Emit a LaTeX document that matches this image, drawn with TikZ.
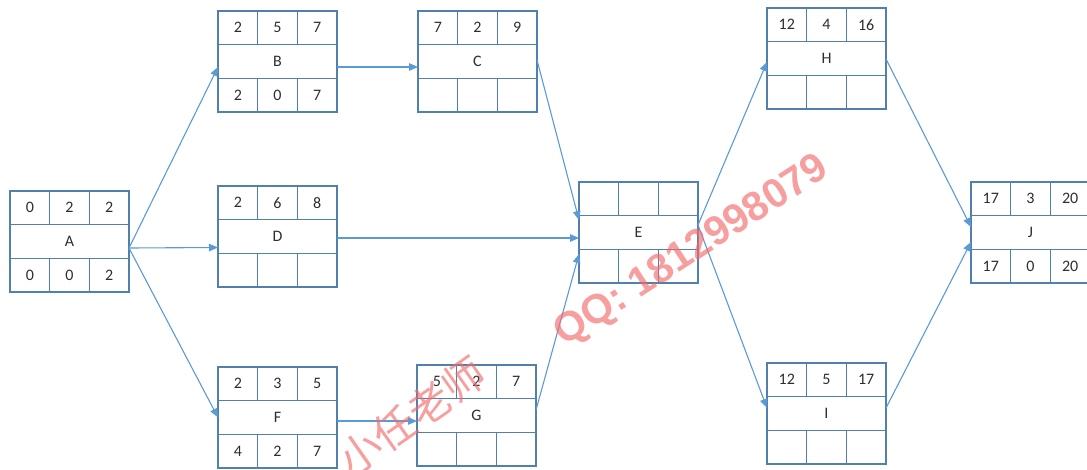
\documentclass[tikz,border=0pt]{standalone}
\usepackage{fontspec}
\setmainfont{Carlito}
\newfontfamily\markfont{Liberation Sans}
\newfontfamily\cjkmark{Noto Sans CJK SC}
\usetikzlibrary{arrows.meta,calc}

\definecolor{gridblue}{HTML}{5080AE}
\definecolor{linkblue}{HTML}{5B9BD5}
\definecolor{inkgrey}{HTML}{2E2E2E}
\definecolor{markred}{HTML}{F46A6A}

\tikzset{
  actframe/.style={draw=gridblue, line width=1.4pt, minimum width=119pt,
    minimum height=101pt, anchor=north west, inner sep=0pt, outer sep=0pt},
  gridline/.style={draw=gridblue, line width=1.4pt},
  celltext/.style={font=\fontsize{16}{16}\selectfont, text=inkgrey, inner sep=0pt},
  link/.style={draw=linkblue, line width=1.1pt, -{Triangle[length=9pt,width=7.5pt]}},
  stamp/.style={text=markred, opacity=0.65}
}

% activity box: name, top-left corner, ES D EF (top row), LS TF LF (bottom row)
\newcommand{\actbox}[8]{%
  \node[actframe] (#1) at (#2) {};
  \draw[gridline] ([yshift=-33.7pt]#1.north west) -- ([yshift=-33.7pt]#1.north east);
  \draw[gridline] ([yshift=33.7pt]#1.south west) -- ([yshift=33.7pt]#1.south east);
  \foreach \k in {1,2} {
    \draw[gridline] ($(#1.north west)!\k/3!(#1.north east)$) -- ++(0,-33.7pt);
    \draw[gridline] ($(#1.south west)!\k/3!(#1.south east)$) -- ++(0,33.7pt);
  }
  \node[celltext] at ($(#1.north west)!1/6!(#1.north east)+(0,-16.8pt)$) {#3};
  \node[celltext] at ($(#1.north west)!3/6!(#1.north east)+(0,-16.8pt)$) {#4};
  \node[celltext] at ($(#1.north west)!5/6!(#1.north east)+(0,-16.8pt)$) {#5};
  \node[celltext] at (#1.center) {#1};
  \node[celltext] at ($(#1.south west)!1/6!(#1.south east)+(0,16.8pt)$) {#6};
  \node[celltext] at ($(#1.south west)!3/6!(#1.south east)+(0,16.8pt)$) {#7};
  \node[celltext] at ($(#1.south west)!5/6!(#1.south east)+(0,16.8pt)$) {#8};
}

\begin{document}
\begin{tikzpicture}[x=1pt, y=-1pt]
\useasboundingbox (0,0) rectangle (1087,469);
\clip (0,0) rectangle (1087,469);
\fill[white] (0,0) rectangle (1087,469);

\actbox{A}{10,191}{0}{2}{2}{0}{0}{2}
\actbox{B}{218,11}{2}{5}{7}{2}{0}{7}
\actbox{C}{418,11}{7}{2}{9}{}{}{}
\actbox{D}{218,186}{2}{6}{8}{}{}{}
\actbox{F}{218,367}{2}{3}{5}{4}{2}{7}
\actbox{G}{417,365}{5}{2}{7}{}{}{}
\actbox{E}{579,182}{}{}{}{}{}{}
\actbox{H}{767,8}{12}{4}{16}{}{}{}
\actbox{I}{767,363}{12}{5}{17}{}{}{}
\actbox{J}{971,182}{17}{3}{20}{17}{0}{20}

% precedence links
\draw[link] ([yshift=-6.5pt]A.east) -- ([yshift=-5.5pt]B.west);
\draw[link] ([yshift=-6.5pt]A.east) -- ([yshift=-11pt]D.west);
\draw[link] ([yshift=-6.5pt]A.east) -- ([yshift=0pt]F.west);
\draw[link] ([yshift=-5.5pt]B.east) -- ([yshift=-5.5pt]C.west);
\draw[link] ([yshift=1.5pt]C.east) -- ([yshift=12.5pt]E.west);
\draw[link] ([yshift=-1.5pt]D.east) -- ([yshift=-5.5pt]E.west);
\draw[link] ([yshift=5.5pt]G.east) -- ([yshift=-21.5pt]E.west);
\draw[link] ([yshift=-3.5pt]F.east) -- ([yshift=-5.5pt]G.west);
\draw[link] ([yshift=7.5pt]E.east) -- ([yshift=-3.5pt]H.west);
\draw[link] ([yshift=7.5pt]E.east) -- ([yshift=5.5pt]I.west);
\draw[link] ([yshift=-0.5pt]H.east) -- ([yshift=5.5pt]J.west);
\draw[link] ([yshift=5.5pt]I.east) -- ([yshift=-9.5pt]J.west);

% stamps
\node[stamp, rotate=33, font=\markfont\bfseries\fontsize{41}{41}\selectfont] (qq) at (692,252) {QQ: 1812998079};
\node[stamp, rotate=35, font=\cjkmark\fontsize{42}{42}\selectfont] (tutor) at (412,416) {小任老师};
\end{tikzpicture}
\end{document}
